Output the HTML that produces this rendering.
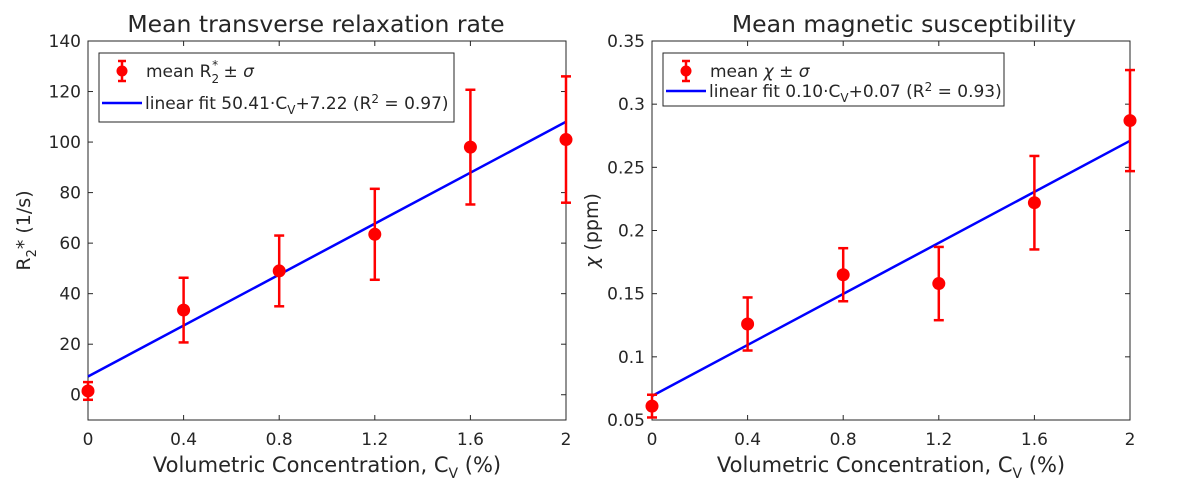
<!DOCTYPE html>
<html><head><meta charset="utf-8"><style>
body{margin:0;background:#fff;font-family:"DejaVu Sans","Liberation Sans",sans-serif}
svg text{fill:#262626}
</style></head><body>
<svg id="c" width="1188" height="492" xmlns="http://www.w3.org/2000/svg" font-family="DejaVu Sans, Liberation Sans, sans-serif"></svg>
<script>
const cats=[0,0.4,0.8,1.2,1.6,2];
const r2Mean=[1.5,33.5,49,63.5,98,101];
const r2Sd=[3.5,12.8,14,18,22.7,25];
const chiMean=[0.061,0.126,0.165,0.158,0.222,0.287];
const chiSd=[0.009,0.021,0.021,0.029,0.037,0.040];
const fit1=[50.41,7.22];
const fit2=[0.101,0.069];
const xTicks=[0,0.4,0.8,1.2,1.6,2];
const xTickLabels=["0","0.4","0.8","1.2","1.6","2"];
const yTicks1=[0,20,40,60,80,100,120,140];
const yTicks2=[0.05,0.1,0.15,0.2,0.25,0.3,0.35];
const NS="http://www.w3.org/2000/svg";
const svg=document.getElementById('c');
function el(t,a,p){const e=document.createElementNS(NS,t);for(const k in a)e.setAttribute(k,a[k]);(p||svg).appendChild(e);return e;}
function panel(cfg){
 const g=el('g',{});
 
 
 const L=cfg.x0,R=cfg.x1,T=41,B=420;
 const sx=v=>L+(v-0)/(2-0)*(R-L);
 const sy=v=>B-(v-cfg.ymin)/(cfg.ymax-cfg.ymin)*(B-T);
 const box=el('rect',{x:L,y:T,width:R-L,height:B-T,fill:'none',stroke:'#262626','stroke-width':1},g);
 
 xTicks.forEach((v,i)=>{
  el('line',{x1:sx(v),x2:sx(v),y1:B,y2:B-5,stroke:'#262626'},g);
  el('line',{x1:sx(v),x2:sx(v),y1:T,y2:T+5,stroke:'#262626'},g);
  const t=el('text',{x:sx(v),y:445,'text-anchor':'middle','font-size':17},g);t.textContent=xTickLabels[i];
  
 });
 cfg.yt.forEach(v=>{
  el('line',{x1:L,x2:L+5,y1:sy(v),y2:sy(v),stroke:'#262626'},g);
  el('line',{x1:R,x2:R-5,y1:sy(v),y2:sy(v),stroke:'#262626'},g);
  const t=el('text',{x:L-7,y:sy(v)+6,'text-anchor':'end','font-size':17},g);t.textContent=String(v);
  
 });
 const fl=el('line',{x1:sx(0),y1:sy(cfg.fit[1]),x2:sx(2),y2:sy(cfg.fit[0]*2+cfg.fit[1]),stroke:'#0000ff','stroke-width':2.5},g);
 
 cats.forEach((c,i)=>{
  const m=cfg.mean[i],s=cfg.sd[i],x=sx(c);
  const eg=el('g',{stroke:'#ff0000','stroke-width':2.5},g);
  
  el('line',{x1:x,x2:x,y1:sy(m-s),y2:sy(m+s)},eg);
  el('line',{x1:x-5,x2:x+5,y1:sy(m-s),y2:sy(m-s)},eg);
  el('line',{x1:x-5,x2:x+5,y1:sy(m+s),y2:sy(m+s)},eg);
  el('circle',{cx:x,cy:sy(m),r:6.5,fill:'#ff0000',stroke:'none'},eg);
 });
 const tt=el('text',{x:cfg.tx,y:32,'text-anchor':'middle','font-size':23.5,fill:'#000'},g);tt.textContent=cfg.title;
 
 const xl=el('text',{x:(L+R)/2,y:472,'text-anchor':'middle','font-size':21},g);
 xl.innerHTML='Volumetric Concentration, C<tspan dy="6" font-size="14">V</tspan><tspan dy="-6"> (%)</tspan>';
 
 const yl=el('text',{transform:`translate(${cfg.ylx},${(T+B)/2}) rotate(-90)`,'text-anchor':'middle','font-size':19},g);
 yl.innerHTML=cfg.ylab;
 
 const lg=el('g',{},g);
 
 el('rect',{x:L+11,y:53,width:cfg.lw,height:cfg.lh,fill:'#fff',stroke:'#262626'},lg);
 const mx=L+34,my=71;
 const mk=el('g',{stroke:'#ff0000','stroke-width':2.5},lg);
 el('line',{x1:mx,x2:mx,y1:my-10,y2:my+10},mk);el('line',{x1:mx-4,x2:mx+4,y1:my-10,y2:my-10},mk);el('line',{x1:mx-4,x2:mx+4,y1:my+10,y2:my+10},mk);
 el('circle',{cx:mx,cy:my,r:5.5,fill:'#ff0000',stroke:'none'},mk);
 const t1=el('text',{x:L+58,y:my+6,'font-size':17,fill:'#000'},lg);t1.innerHTML=cfg.l1;
 const ly=cfg.l2y;
 el('line',{x1:L+14,x2:L+54,y1:ly,y2:ly,stroke:'#0000ff','stroke-width':2.5},lg);
 const t2=el('text',{x:L+57,y:ly+6,'font-size':17,fill:'#000'},lg);t2.innerHTML=cfg.l2;
}
panel({name:'r2-panel',x0:88,x1:566,tx:316,ymin:-10,ymax:140,yt:yTicks1,mean:r2Mean,sd:r2Sd,fit:fit1,
 title:'Mean transverse relaxation rate',ylx:30,lw:355,lh:69,l2y:103,
 ylab:'R<tspan dy="6" font-size="13">2</tspan><tspan dy="-6">* (1/s)</tspan>',
 l1:'mean R<tspan dy="6" font-size="12">2</tspan><tspan dx="-7" dy="-14" font-size="12">*</tspan><tspan dy="8"> ± </tspan><tspan font-style="italic">σ</tspan>',
 l2:'linear fit 50.41·C<tspan dy="5" font-size="12">V</tspan><tspan dy="-5">+7.22 (R</tspan><tspan dy="-6" font-size="12">2</tspan><tspan dy="6"> = 0.97)</tspan>'});
panel({name:'chi-panel',x0:652,x1:1130,tx:904,ymin:0.05,ymax:0.35,yt:yTicks2,mean:chiMean,sd:chiSd,fit:fit2,
 title:'Mean magnetic susceptibility',ylx:598,lw:341,lh:53,l2y:91,
 ylab:'<tspan font-style="italic">χ</tspan> (ppm)',
 l1:'mean <tspan font-style="italic">χ</tspan> ± <tspan font-style="italic">σ</tspan>',
 l2:'linear fit 0.10·C<tspan dy="5" font-size="12">V</tspan><tspan dy="-5">+0.07 (R</tspan><tspan dy="-6" font-size="12">2</tspan><tspan dy="6"> = 0.93)</tspan>'});
</script>
</body></html>
